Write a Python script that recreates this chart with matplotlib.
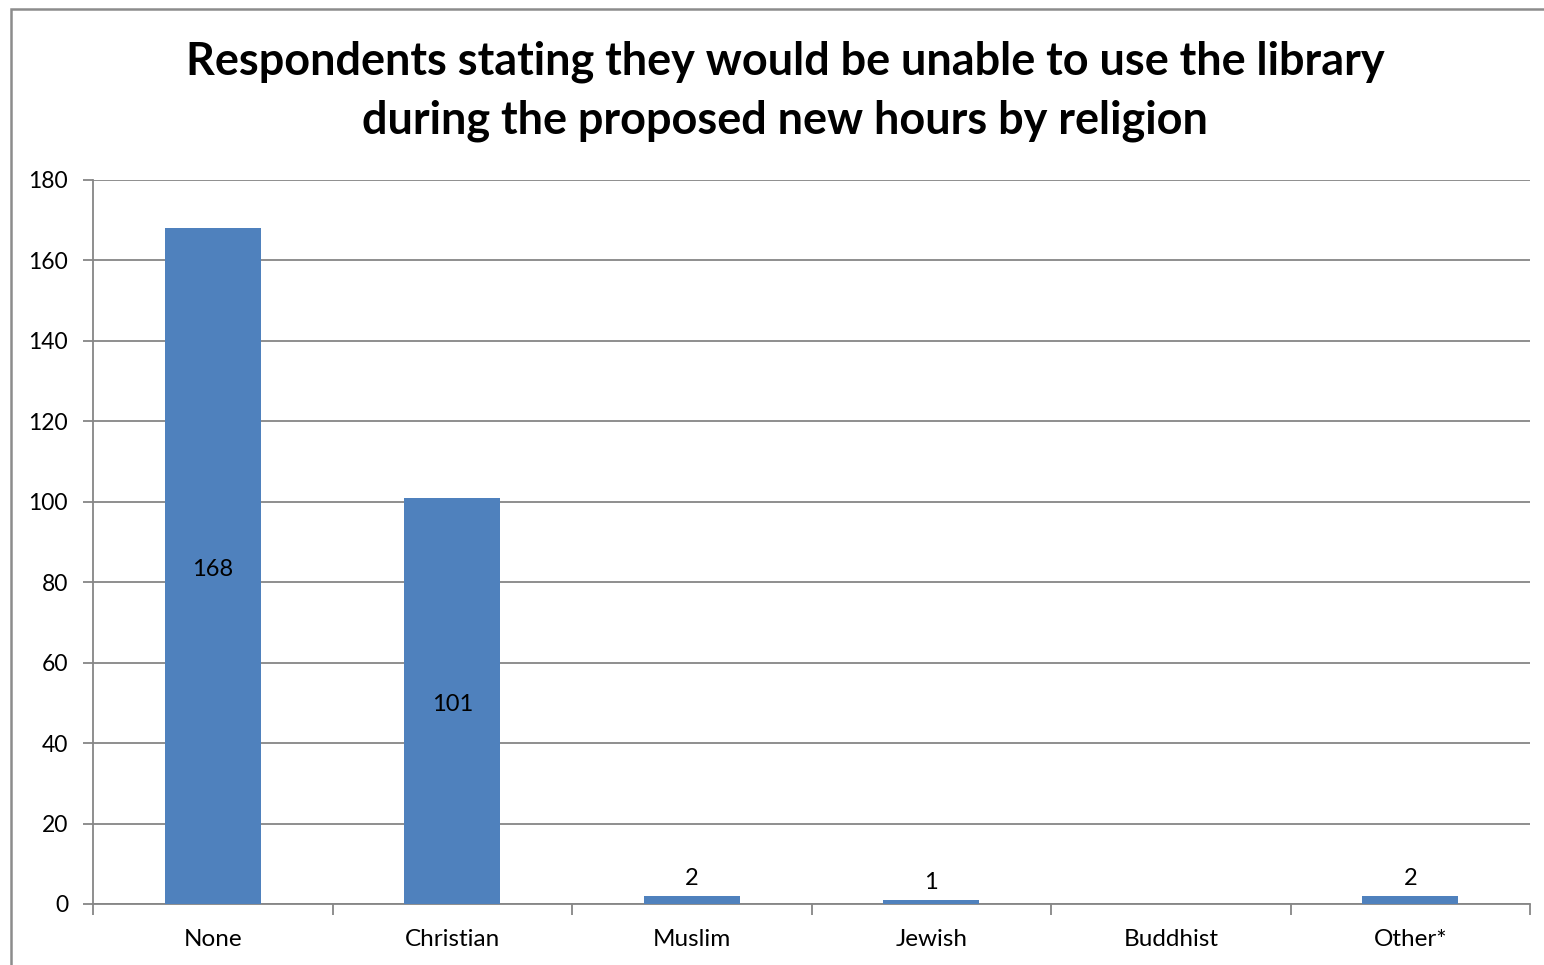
import matplotlib
matplotlib.use("Agg")
import matplotlib.pyplot as plt
from matplotlib.patches import Rectangle

categories = ["None", "Christian", "Muslim", "Jewish", "Buddhist", "Other*"]
values = [168, 101, 2, 1, 0, 2]
y_ticks = [0, 20, 40, 60, 80, 100, 120, 140, 160, 180]
title = ("Respondents stating they would be unable to use the library\n"
         "during the proposed new hours by religion")

plt.rcParams["font.family"] = ["Lato", "DejaVu Sans"]

bar_color = "#4F81BD"
grid_color = "#868686"

fig = plt.figure(figsize=(15.44, 9.65), dpi=100)
ax = fig.add_axes([93 / 1544, 1 - 904 / 965, (1530 - 93) / 1544, (904 - 180) / 965])

# chart frame
fig.patches.append(Rectangle((11 / 1544, -0.1), 1.2, 1 - 9 / 965 + 0.1,
                             transform=fig.transFigure, fill=False,
                             edgecolor="#8C8C8C", linewidth=1.8, zorder=0))

x = list(range(len(categories)))
ax.bar(x, values, width=0.4, color=bar_color, zorder=3)

for xi, v in zip(x, values):
    if v == 0:
        continue
    if v > 20:
        ax.text(xi, v / 2 - 0.8, str(v), ha="center", va="center", fontsize=17,
                color="black", zorder=4)
    else:
        ax.text(xi, v + 1.8, str(v), ha="center", va="bottom", fontsize=17,
                color="black", zorder=4)

ax.set_xlim(-0.5, len(categories) - 0.5)
ax.set_ylim(0, 180)
ax.set_yticks(y_ticks)
ax.set_yticklabels([str(t) for t in y_ticks], fontsize=16.5)
ax.yaxis.grid(True, color=grid_color, linewidth=1.3, zorder=0)
ax.set_axisbelow(True)

# category labels centred, ticks on category boundaries
ax.set_xticks(x)
ax.set_xticklabels(categories, fontsize=17.5)
ax.tick_params(axis="x", length=0, pad=18)
ax.set_xticks([i - 0.5 for i in range(len(categories) + 1)], minor=True)
ax.tick_params(axis="x", which="minor", length=8, width=1.3, color=grid_color)
ax.tick_params(axis="y", length=7, width=1.3, color=grid_color, pad=11)

for side in ("top", "right"):
    ax.spines[side].set_visible(False)
for side in ("left", "bottom"):
    ax.spines[side].set_color(grid_color)
    ax.spines[side].set_linewidth(1.3)

fig.text(785 / 1544, 1 - 91 / 965, title, ha="center", va="center",
         fontsize=32.4, fontweight="bold", linespacing=1.48)

fig.savefig("out.png", dpi=100, facecolor="white")
